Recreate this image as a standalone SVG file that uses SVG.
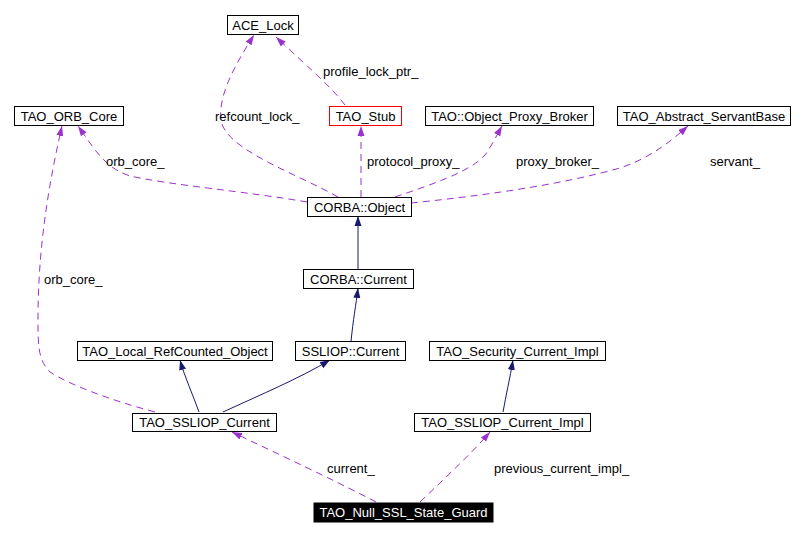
<svg xmlns="http://www.w3.org/2000/svg" width="804" height="537" viewBox="0 0 804 537">
<style>
text{font-family:"Liberation Sans",Arial,sans-serif;font-size:13px;fill:#000}
.n rect{fill:#fff;stroke:#000;stroke-width:1}
.n text{text-anchor:middle}
.u{fill:none;stroke:#9a32cd;stroke-width:1;stroke-dasharray:7,5}
.i{fill:none;stroke:#191970;stroke-width:1}
</style>
<defs>
<marker id="ap" markerUnits="userSpaceOnUse" markerWidth="11" markerHeight="8" refX="10" refY="4" orient="auto"><path d="M0,0.5 L10,4 L0,7.5 z" fill="#9a32cd"/></marker>
<marker id="ab" markerUnits="userSpaceOnUse" markerWidth="11" markerHeight="8" refX="10" refY="4" orient="auto"><path d="M0,0.5 L10,4 L0,7.5 z" fill="#191970"/></marker>
</defs>
<rect width="804" height="537" fill="#fff"/>
<g id="edges">
<path class="u" marker-end="url(#ap)" d="M338,197 C300,175 225,150 221,120 C218,95 235,65 254,35"/>
<path class="u" marker-end="url(#ap)" d="M345,105 C330,85 300,60 276,37"/>
<path class="u" marker-end="url(#ap)" d="M307,202 C250,192 170,185 130,176 C105,168 95,150 78,126"/>
<path class="u" marker-end="url(#ap)" d="M361,197 L361,126"/>
<path class="u" marker-end="url(#ap)" d="M395,197 C430,185 470,172 485,155 C492,145 497,135 502,126"/>
<path class="u" marker-end="url(#ap)" d="M411,203 C480,196 560,185 620,168 C650,158 670,142 688,126"/>
<path class="i" marker-end="url(#ab)" d="M358,269 L358,216"/>
<path class="i" marker-end="url(#ab)" d="M351,342 C353,320 356,305 358,288"/>
<path class="i" marker-end="url(#ab)" d="M199,412 C193,395 185,378 180,360"/>
<path class="i" marker-end="url(#ab)" d="M223,412 C260,395 300,378 330,360"/>
<path class="i" marker-end="url(#ab)" d="M503,412 C506,395 510,378 513,360"/>
<path class="u" marker-end="url(#ap)" d="M155,412 C110,400 70,385 50,372 C38,360 38,345 38,320 C38,260 45,200 62,126"/>
<path class="u" marker-end="url(#ap)" d="M376,502 C330,478 280,455 232,432"/>
<path class="u" marker-end="url(#ap)" d="M420,502 C445,478 470,455 490,432"/>
<text x="323" y="76">profile_lock_ptr_</text>
<text x="215" y="121">refcount_lock_</text>
<text x="106" y="166">orb_core_</text>
<text x="367" y="166">protocol_proxy_</text>
<text x="516" y="166">proxy_broker_</text>
<text x="710" y="166">servant_</text>
<text x="44" y="284">orb_core_</text>
<text x="327" y="473">current_</text>
<text x="494" y="473">previous_current_impl_</text>
</g>
<g id="ace_lock" class="n"><rect x="227.5" y="15.5" width="71" height="19"/><text x="263" y="30">ACE_Lock</text></g>
<g id="tao_orb_core" class="n"><rect x="14.5" y="106.5" width="109" height="19"/><text x="69" y="121">TAO_ORB_Core</text></g>
<g id="tao_stub" class="n"><rect x="329.5" y="106.5" width="72" height="19" style="stroke:#f00"/><text x="365.5" y="121">TAO_Stub</text></g>
<g id="tao_object_proxy_broker" class="n"><rect x="425.5" y="106.5" width="168" height="19"/><text x="509.5" y="121">TAO::Object_Proxy_Broker</text></g>
<g id="tao_abstract_servantbase" class="n"><rect x="617.5" y="106.5" width="173" height="19"/><text x="704" y="121">TAO_Abstract_ServantBase</text></g>
<g id="corba_object" class="n"><rect x="307.5" y="197.5" width="104" height="19"/><text x="359.5" y="212">CORBA::Object</text></g>
<g id="corba_current" class="n"><rect x="303.5" y="269.5" width="110" height="19"/><text x="358.5" y="284">CORBA::Current</text></g>
<g id="tao_local_refcounted_object" class="n"><rect x="77.5" y="341.5" width="195" height="19"/><text x="175" y="356">TAO_Local_RefCounted_Object</text></g>
<g id="ssliop_current" class="n"><rect x="295.5" y="341.5" width="110" height="19"/><text x="350.5" y="356">SSLIOP::Current</text></g>
<g id="tao_security_current_impl" class="n"><rect x="429.5" y="341.5" width="176" height="19"/><text x="517.5" y="356">TAO_Security_Current_Impl</text></g>
<g id="tao_ssliop_current" class="n"><rect x="132.5" y="413.5" width="144" height="18"/><text x="204.5" y="427">TAO_SSLIOP_Current</text></g>
<g id="tao_ssliop_current_impl" class="n"><rect x="414.5" y="413.5" width="176" height="18"/><text x="502.5" y="427">TAO_SSLIOP_Current_Impl</text></g>
<g id="tao_null_ssl_state_guard" class="n"><rect x="314" y="503" width="179" height="19" style="fill:#000;stroke:#000"/><text x="403.5" y="517" style="fill:#fff">TAO_Null_SSL_State_Guard</text></g>
</svg>
